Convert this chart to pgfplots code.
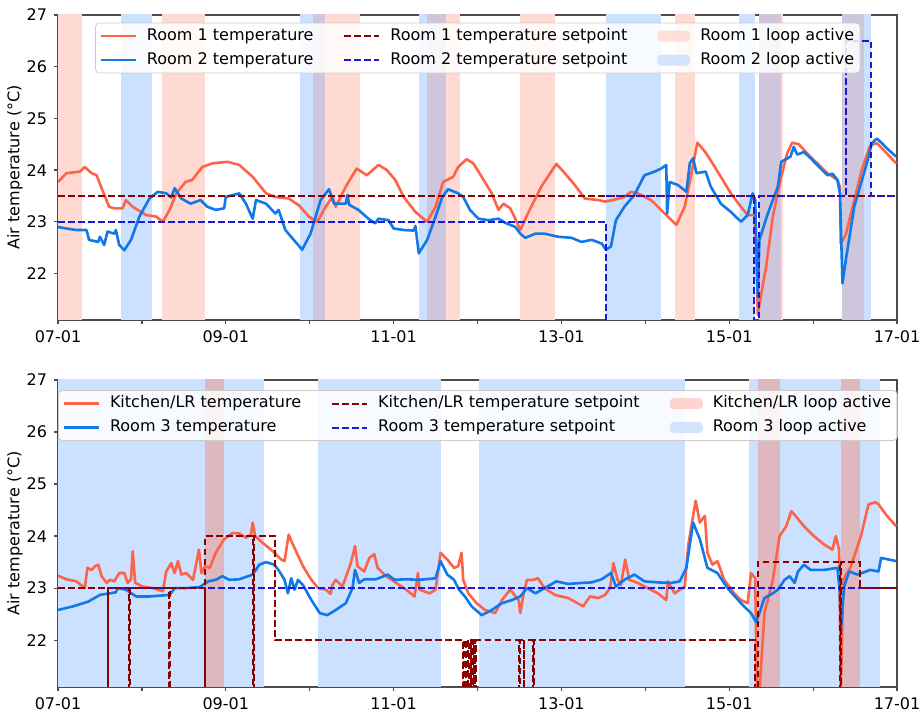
\documentclass[border=0pt]{standalone}
\usepackage{pgfplots}
\pgfplotsset{compat=1.18}
\usepackage{fontspec}
\setmainfont{DejaVu Sans}
\definecolor{tempRed}{RGB}{255,99,71}
\definecolor{tempBlue}{RGB}{16,120,232}
\definecolor{spRed}{RGB}{139,0,0}
\definecolor{spBlue}{RGB}{25,25,215}
\definecolor{bandRed}{RGB}{255,218,210}
\definecolor{bandBlue}{RGB}{204,224,255}
\definecolor{ovTop}{RGB}{206,198,220}
\definecolor{ovBot}{RGB}{222,184,190}
\definecolor{legRed}{RGB}{255,205,198}
\newcommand{\band}[3]{\addplot[draw=none, fill=#3, forget plot] coordinates {(#1,20) (#1,28) (#2,28) (#2,20)};}
\pgfplotsset{
  lineleg/.style={legend image code/.code={\draw[##1] (0pt,0pt) -- (17.5pt,0pt);}},
  boxleg/.style={legend image code/.code={\fill[##1, draw=none] (0pt,-2.75pt) rectangle (16.5pt,2.75pt);}},
  tline/.style={line width=1.3pt, line join=round},
  sline/.style={line width=1pt, dash pattern=on 3.3pt off 1.7pt},
  myaxis/.style={
    scale only axis, width=419.5pt,
    xmin=0, xmax=10, ymin=21.1, ymax=27,
    xtick={0,1,...,10},
    xticklabels={07-01,,09-01,,11-01,,13-01,,15-01,,17-01},
    ytick={22,23,24,25,26,27},
    tick align=outside, major tick length=2pt,
    xtick pos=bottom, ytick pos=left,
    axis line style={black!70, line width=0.6pt},
    every tick/.style={black!70, line width=0.6pt},
    tick label style={font=\fontsize{8}{9.6}\selectfont, /pgf/number format/assume math mode=true},
    label style={font=\fontsize{8}{9.6}\selectfont},
    ylabel={Air temperature (°C)},
    ylabel style={at={(axis description cs:-0.0513,0.5)}, anchor=center},
    legend columns=3,
    legend cell align=left,
    legend style={font=\fontsize{8}{9.6}\selectfont, fill=white, fill opacity=0.85, text opacity=1,
      draw=black!20, rounded corners=2pt, inner xsep=2pt, inner ysep=1.5pt,
      nodes={inner sep=1pt, text height=6pt, text depth=2pt},
      column sep=4pt, row sep=2pt,
      /tikz/every even column/.append style={column sep=14pt}},
  }
}
\begin{document}
\begin{tikzpicture}
\useasboundingbox (-29pt,7.5pt) rectangle (431.5pt,-348.5pt);
% ---------------- top ----------------
\begin{axis}[myaxis, height=152.5pt, at={(0pt,0pt)}, anchor=north west,
  legend style={at={(0.0441,0.975)}, anchor=north west}]
\addlegendimage{lineleg, tline, color=tempRed}
\addlegendentry{Room 1 temperature}
\addlegendimage{lineleg, sline, color=spRed}
\addlegendentry{Room 1 temperature setpoint}
\addlegendimage{boxleg, fill=bandRed}
\addlegendentry{Room 1 loop active}
\addlegendimage{lineleg, tline, color=tempBlue}
\addlegendentry{Room 2 temperature}
\addlegendimage{lineleg, sline, color=spBlue}
\addlegendentry{Room 2 temperature setpoint}
\addlegendimage{boxleg, fill=bandBlue}
\addlegendentry{Room 2 loop active}
% bands
\band{0}{0.29}{bandRed}
\band{1.24}{1.75}{bandRed}
\band{3.04}{3.60}{bandRed}
\band{4.40}{4.79}{bandRed}
\band{5.51}{5.92}{bandRed}
\band{7.35}{7.59}{bandRed}
\band{8.36}{8.64}{bandRed}
\band{9.35}{9.61}{bandRed}
\band{0.75}{1.12}{bandBlue}
\band{2.88}{3.18}{bandBlue}
\band{4.30}{4.63}{bandBlue}
\band{6.53}{7.19}{bandBlue}
\band{8.12}{8.31}{bandBlue}
\band{8.36}{8.62}{bandBlue}
\band{9.35}{9.69}{bandBlue}
\band{3.04}{3.18}{ovTop}
\band{4.40}{4.63}{ovTop}
\band{8.36}{8.62}{ovTop}
\band{9.35}{9.61}{ovTop}
% Room 1 temperature
\addplot[tline, color=tempRed, forget plot] coordinates {
(0,23.77)(0.1,23.94)(0.26,23.97)(0.32,24.06)(0.40,23.94)(0.46,23.90)(0.53,23.61)(0.61,23.29)(0.67,23.26)(0.77,23.26)(0.81,23.42)(0.89,23.29)(1.05,23.13)(1.17,23.10)(1.25,23.0)(1.33,23.23)(1.41,23.55)(1.52,23.77)(1.60,23.81)(1.72,24.06)(1.84,24.13)(2.02,24.16)(2.16,24.10)(2.32,23.87)(2.48,23.55)(2.59,23.48)(2.75,23.45)(2.87,23.32)(2.99,23.10)(3.09,23.0)(3.19,23.29)(3.27,23.48)(3.31,23.29)(3.43,23.68)(3.56,24.03)(3.68,23.90)(3.82,24.10)(3.92,24.0)(4.02,23.81)(4.12,23.48)(4.26,23.19)(4.40,23.0)(4.50,23.29)(4.59,23.77)(4.71,23.87)(4.77,24.06)(4.87,24.21)(4.95,24.13)(5.05,23.87)(5.17,23.55)(5.25,23.23)(5.31,23.35)(5.39,23.26)(5.45,23.06)(5.51,22.84)(5.60,23.16)(5.76,23.68)(5.94,24.12)(6.04,23.94)(6.16,23.71)(6.28,23.45)(6.44,23.42)(6.52,23.39)(6.64,23.43)(6.75,23.48)(6.83,23.58)(6.91,23.55)(7.07,23.42)(7.23,23.16)(7.37,22.94)(7.47,23.29)(7.55,23.94)(7.62,24.53)(7.71,24.36)(7.79,24.16)(7.90,23.87)(8.02,23.55)(8.14,23.29)(8.22,23.13)(8.30,23.13)(8.32,22.6)(8.34,21.2)(8.36,21.4)(8.44,22.13)(8.52,23.10)(8.62,23.87)(8.69,24.32)(8.75,24.53)(8.83,24.50)(8.93,24.32)(9.05,24.13)(9.17,23.94)(9.29,23.81)(9.32,23.68)(9.33,22.58)(9.39,22.75)(9.49,23.42)(9.58,24.0)(9.68,24.48)(9.76,24.52)(9.84,24.39)(9.99,24.13)};
% Room 2 temperature
\addplot[tline, color=tempBlue, forget plot] coordinates {
(0,22.90)(0.1,22.87)(0.22,22.84)(0.34,22.84)(0.37,22.65)(0.48,22.61)(0.50,22.71)(0.55,22.55)(0.59,22.81)(0.67,22.77)(0.69,22.84)(0.73,22.55)(0.79,22.45)(0.87,22.65)(0.97,23.10)(1.09,23.45)(1.19,23.58)(1.29,23.55)(1.35,23.47)(1.39,23.65)(1.47,23.45)(1.58,23.35)(1.70,23.42)(1.78,23.29)(1.88,23.23)(1.98,23.26)(2.0,23.48)(2.16,23.55)(2.24,23.35)(2.32,23.06)(2.36,23.42)(2.48,23.35)(2.59,23.16)(2.63,23.23)(2.71,22.84)(2.81,22.65)(2.91,22.46)(3.01,22.77)(3.13,23.42)(3.23,23.63)(3.29,23.35)(3.43,23.35)(3.45,23.52)(3.47,23.33)(3.58,23.23)(3.70,23.06)(3.78,22.97)(3.82,23.06)(3.94,23.03)(4.0,22.87)(4.12,22.84)(4.24,22.83)(4.26,22.92)(4.30,22.39)(4.40,22.65)(4.50,23.10)(4.58,23.48)(4.65,23.63)(4.77,23.55)(4.83,23.48)(4.91,23.23)(5.01,23.06)(5.13,23.03)(5.25,23.06)(5.33,22.98)(5.45,22.90)(5.51,22.77)(5.57,22.69)(5.69,22.77)(5.80,22.77)(5.96,22.71)(6.12,22.69)(6.24,22.61)(6.36,22.65)(6.48,22.58)(6.53,22.46)(6.59,22.52)(6.65,23.03)(6.75,23.29)(6.87,23.52)(6.99,23.90)(7.11,23.97)(7.19,24.03)(7.25,24.10)(7.26,23.16)(7.29,23.77)(7.39,23.71)(7.49,23.58)(7.53,24.13)(7.57,24.23)(7.61,23.94)(7.72,23.97)(7.78,23.68)(7.90,23.35)(8.02,23.19)(8.14,23.0)(8.22,23.13)(8.28,23.55)(8.31,23.42)(8.34,21.55)(8.36,22.65)(8.46,23.16)(8.58,23.68)(8.62,24.16)(8.73,24.26)(8.77,24.45)(8.81,24.30)(8.89,24.35)(8.97,24.23)(9.09,24.03)(9.17,23.90)(9.23,23.93)(9.29,23.81)(9.32,23.55)(9.35,21.81)(9.39,22.26)(9.49,23.29)(9.57,23.74)(9.65,24.19)(9.70,24.52)(9.76,24.61)(9.82,24.52)(9.88,24.42)(9.99,24.26)};
% setpoints
\addplot[sline, color=spRed, forget plot] coordinates {(0,23.5)(10,23.5)};
\addplot[sline, color=spBlue, forget plot] coordinates {(0,23)(6.53,23)(6.53,15)};
\addplot[sline, color=spBlue, const plot, forget plot] coordinates {
(6.53,23.5)(8.30,15)(8.36,23.5)(9.39,26.5)(9.69,23.5)(10,23.5)};
\end{axis}
% ---------------- bottom ----------------
\begin{axis}[myaxis, height=153.5pt, at={(0pt,-182.5pt)}, anchor=north west,
  legend style={at={(0,0.967)}, anchor=north west}]
\addlegendimage{lineleg, tline, color=tempRed}
\addlegendentry{Kitchen/LR temperature}
\addlegendimage{lineleg, sline, color=spRed}
\addlegendentry{Kitchen/LR temperature setpoint}
\addlegendimage{boxleg, fill=legRed}
\addlegendentry{Kitchen/LR loop active}
\addlegendimage{lineleg, tline, color=tempBlue}
\addlegendentry{Room 3 temperature}
\addlegendimage{lineleg, sline, color=spBlue}
\addlegendentry{Room 3 temperature setpoint}
\addlegendimage{boxleg, fill=bandBlue}
\addlegendentry{Room 3 loop active}
\band{0}{2.46}{bandBlue}
\band{3.10}{4.56}{bandBlue}
\band{5.02}{7.47}{bandBlue}
\band{8.24}{9.80}{bandBlue}
\band{1.75}{1.98}{ovBot}
\band{8.34}{8.60}{ovBot}
\band{9.33}{9.56}{ovBot}
% Kitchen/LR temperature
\addplot[tline, color=tempRed, forget plot] coordinates {
(0,23.24)(0.1,23.17)(0.22,23.13)(0.32,23.0)(0.35,23.39)(0.40,23.35)(0.44,23.42)(0.48,23.45)(0.52,23.23)(0.58,23.10)(0.62,23.16)(0.67,23.13)(0.73,23.29)(0.79,23.29)(0.83,23.10)(0.87,23.17)(0.89,23.71)(0.92,23.10)(1.01,23.03)(1.13,23.0)(1.25,22.94)(1.29,23.32)(1.35,23.48)(1.39,23.29)(1.43,23.52)(1.47,23.26)(1.53,23.29)(1.61,23.16)(1.68,23.74)(1.71,23.29)(1.75,23.42)(1.81,23.39)(1.88,23.68)(1.98,23.94)(2.08,24.06)(2.16,24.05)(2.24,23.97)(2.30,24.03)(2.32,24.26)(2.35,24.0)(2.44,23.87)(2.56,23.71)(2.66,23.55)(2.70,23.52)(2.75,24.03)(2.79,23.87)(2.82,23.77)(2.92,23.42)(3.02,23.16)(3.10,23.0)(3.19,22.97)(3.25,22.89)(3.27,23.06)(3.31,23.16)(3.39,23.03)(3.49,23.48)(3.54,23.81)(3.57,23.42)(3.65,23.32)(3.71,23.58)(3.77,23.65)(3.81,23.39)(3.91,23.23)(4.03,23.10)(4.15,22.97)(4.25,22.84)(4.29,23.29)(4.31,22.97)(4.43,22.90)(4.50,22.97)(4.56,23.68)(4.64,23.55)(4.72,23.39)(4.77,23.42)(4.81,23.68)(4.83,23.16)(4.89,22.90)(4.99,22.71)(5.09,22.58)(5.21,22.52)(5.29,22.77)(5.39,22.97)(5.49,22.77)(5.51,22.52)(5.55,22.90)(5.59,23.16)(5.67,23.16)(5.72,23.19)(5.80,23.0)(5.92,22.87)(6.08,22.81)(6.26,22.65)(6.34,22.84)(6.44,22.81)(6.52,22.87)(6.58,23.0)(6.62,23.48)(6.67,23.16)(6.71,23.06)(6.76,23.55)(6.81,23.16)(6.91,23.10)(7.03,23.0)(7.15,22.90)(7.25,22.77)(7.27,23.13)(7.35,22.90)(7.41,22.97)(7.47,23.03)(7.51,23.81)(7.57,24.39)(7.60,24.68)(7.65,24.26)(7.71,24.39)(7.74,23.68)(7.80,23.45)(7.86,23.52)(7.94,23.16)(8.06,22.90)(8.14,22.77)(8.22,22.71)(8.26,23.29)(8.31,23.19)(8.33,21.0)(8.36,21.0)(8.42,22.52)(8.52,23.16)(8.60,24.0)(8.68,24.19)(8.74,24.48)(8.79,24.39)(8.89,24.19)(9.01,24.0)(9.13,23.84)(9.23,23.74)(9.27,24.0)(9.31,23.74)(9.33,21.0)(9.36,23.16)(9.45,23.42)(9.57,24.0)(9.66,24.61)(9.74,24.65)(9.78,24.61)(9.88,24.39)(9.99,24.19)};
% Room 3 temperature
\addplot[tline, color=tempBlue, forget plot] coordinates {
(0,22.58)(0.18,22.65)(0.36,22.74)(0.50,22.87)(0.62,22.90)(0.69,22.92)(0.71,23.0)(0.81,22.97)(0.93,22.84)(1.09,22.84)(1.33,22.87)(1.39,23.0)(1.53,23.0)(1.69,23.02)(1.79,23.13)(1.88,23.16)(1.96,23.23)(2.04,23.16)(2.16,23.17)(2.32,23.26)(2.40,23.45)(2.48,23.50)(2.58,23.45)(2.64,23.32)(2.70,23.16)(2.74,22.90)(2.78,23.19)(2.82,22.97)(2.86,23.16)(2.92,23.06)(3.02,22.77)(3.12,22.52)(3.21,22.48)(3.31,22.58)(3.43,22.71)(3.51,23.0)(3.54,23.35)(3.59,23.10)(3.65,23.17)(3.79,23.17)(3.93,23.26)(4.01,23.16)(4.15,23.17)(4.31,23.16)(4.50,23.19)(4.56,23.52)(4.64,23.26)(4.72,23.16)(4.78,22.97)(4.85,22.84)(4.93,22.65)(5.05,22.48)(5.17,22.58)(5.29,22.71)(5.41,22.77)(5.51,22.84)(5.59,23.0)(5.69,22.90)(5.80,23.0)(5.94,23.13)(6.08,23.08)(6.24,23.10)(6.36,23.11)(6.48,23.17)(6.59,23.29)(6.65,23.03)(6.75,23.16)(6.87,23.26)(6.99,23.13)(7.15,23.11)(7.31,23.10)(7.41,23.13)(7.49,23.39)(7.57,24.26)(7.65,23.94)(7.74,23.39)(7.86,23.29)(7.98,23.0)(8.14,22.71)(8.26,22.52)(8.32,22.35)(8.36,22.52)(8.42,22.81)(8.52,22.90)(8.58,22.97)(8.66,23.16)(8.72,23.23)(8.78,23.10)(8.82,23.32)(8.89,23.45)(8.97,23.35)(9.13,23.35)(9.29,23.39)(9.32,22.9)(9.33,22.19)(9.37,23.03)(9.43,23.32)(9.53,23.26)(9.68,23.35)(9.78,23.32)(9.81,23.58)(9.99,23.52)};
% setpoints
\addplot[sline, color=spBlue, forget plot] coordinates {(0,23)(10,23)};
\addplot[sline, color=spRed, const plot, forget plot] coordinates {
(0,23)(0.59,15)(0.60,23)(0.85,15)(0.86,23)(1.32,15)(1.33,23)(1.75,15)(1.755,24)(2.33,15)(2.34,24)(2.59,22)(4.83,15)(4.838,22)(4.86,15)(4.868,22)(4.89,15)(4.898,22)(4.92,15)(4.928,22)(4.95,15)(4.958,22)(4.975,15)(4.983,22)(5.50,15)(5.51,22)(5.55,15)(5.56,22)(5.66,15)(5.67,22)(8.31,15)(8.34,23.5)(9.32,15)(9.33,23.5)(9.56,23)(10,23)};
\end{axis}
\end{tikzpicture}
\end{document}
